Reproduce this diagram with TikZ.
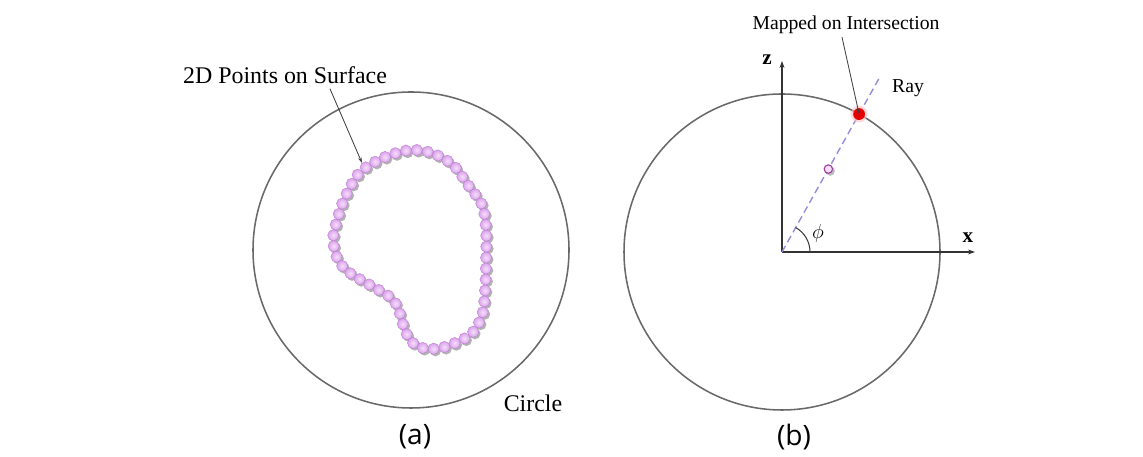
\documentclass[tikz,border=0pt]{standalone}
\usepackage{fontspec}
\setmainfont{Liberation Serif}
\newfontfamily\capfont{Open Sans}
\usetikzlibrary{arrows.meta, calc, decorations.markings}

\definecolor{rimgray}{RGB}{105,105,105}
\definecolor{raycol}{RGB}{150,140,215}
\definecolor{beadcol}{RGB}{218,162,236}
\definecolor{beadhi}{RGB}{246,222,250}
\definecolor{beadrim}{RGB}{190,130,210}

\begin{document}
\begin{tikzpicture}[x=0.025cm, y=0.025cm, >=Stealth,
  rim/.style={draw=rimgray, line width=1.1pt},
  axis/.style={draw=black!80, line width=0.9pt, -{Stealth[length=5pt,width=3.5pt]}},
  pointer/.style={draw=black!75, line width=0.6pt, -{Stealth[length=4pt,width=2.5pt]}},
  lbl/.style={inner sep=0pt, font=\fontsize{17}{20}\selectfont},
  smalllbl/.style={inner sep=0pt, font=\fontsize{14}{17}\selectfont},
  axlbl/.style={inner sep=0pt, font=\fontsize{15}{18}\selectfont\bfseries},
  caplbl/.style={inner sep=0pt, font=\capfont\fontsize{20}{24}\selectfont},
  beadshadow/.style={fill=black!60, opacity=0.5, shift={(1.8,-2)}},
  beadball/.style={inner color=beadhi, outer color=beadcol, draw=beadrim, line width=0.3pt},
  beads/.style={decoration={markings, mark=between positions 0 and 0.99 step 0.0196 with
    {\pgftransformresetnontranslations \path[#1] (0,0) circle (4pt);}}, decorate}]
  \useasboundingbox (0,0) rectangle (1143,457);

  % (a) closed outline of points
  \draw[rim] (411,207) circle (158);
  \foreach \pass in {beadshadow, beadball}
    \path[beads=\pass] plot[smooth cycle, tension=0.55] coordinates {
      (360,285) (385,300) (410,307) (432,304) (453,292) (468,272) (482,252)
      (486,227) (486,197) (485,167) (482,142) (472,124) (457,115) (440,109)
      (423,109) (410,117) (402,135) (398,149) (390,160) (370,172) (350,184)
      (338,197) (333,217) (337,237) (345,260)};

  \node[lbl] (pts) at (285,382) {2D Points on Surface};
  \node[lbl] (circ) at (533,54) {Circle};
  \coordinate (ptsend) at (362,294);
  \draw[pointer] (pts.south) ++(45,-5) -- (ptsend);
  \node[caplbl] (capa) at (415,20) {(a)};

  % (b) ray through the origin
  \coordinate (O) at (782,205);
  \coordinate (zend) at (782,396);
  \coordinate (xend) at (975,205);
  \coordinate (rayend) at ($(O)+(60.8:200)$);
  \coordinate (hit) at ($(O)+(60.8:158)$);
  \coordinate (pt) at ($(O)+(60.8:95)$);
  \draw[rim] (O) circle (158);
  \draw[axis] (O) -- (zend);
  \draw[axis] (O) -- (xend);
  \draw[raycol, line width=1pt, dash pattern=on 5pt off 3pt] (O) -- (rayend);
  \draw[black!80, line width=0.7pt] ($(O)+(28,0)$) arc (0:60.8:28);

  \fill[black!50, opacity=0.5] ($(pt)+(1.8,-2)$) circle (3.4pt);
  \draw[violet!75, fill=beadhi, line width=0.8pt] (pt) circle (3pt);
  \fill[red!25, opacity=0.6] (hit) circle (6pt);
  \fill[red!90!black] (hit) circle (4.2pt);

  \node[axlbl] (zlbl) at (767,397) {z};
  \node[axlbl] (xlbl) at (968,219) {x};
  \node[inner sep=0pt, font=\fontsize{15}{18}\selectfont] (philbl) at (818,224) {$\phi$};
  \node[smalllbl] (ray) at (908,369) {Ray};
  \node[smalllbl] (map) at (846,432) {Mapped on Intersection};
  \draw[pointer] (map.south) ++(-4,-3) -- (hit);
  \node[caplbl] (capb) at (794,20) {(b)};
\end{tikzpicture}
\end{document}
